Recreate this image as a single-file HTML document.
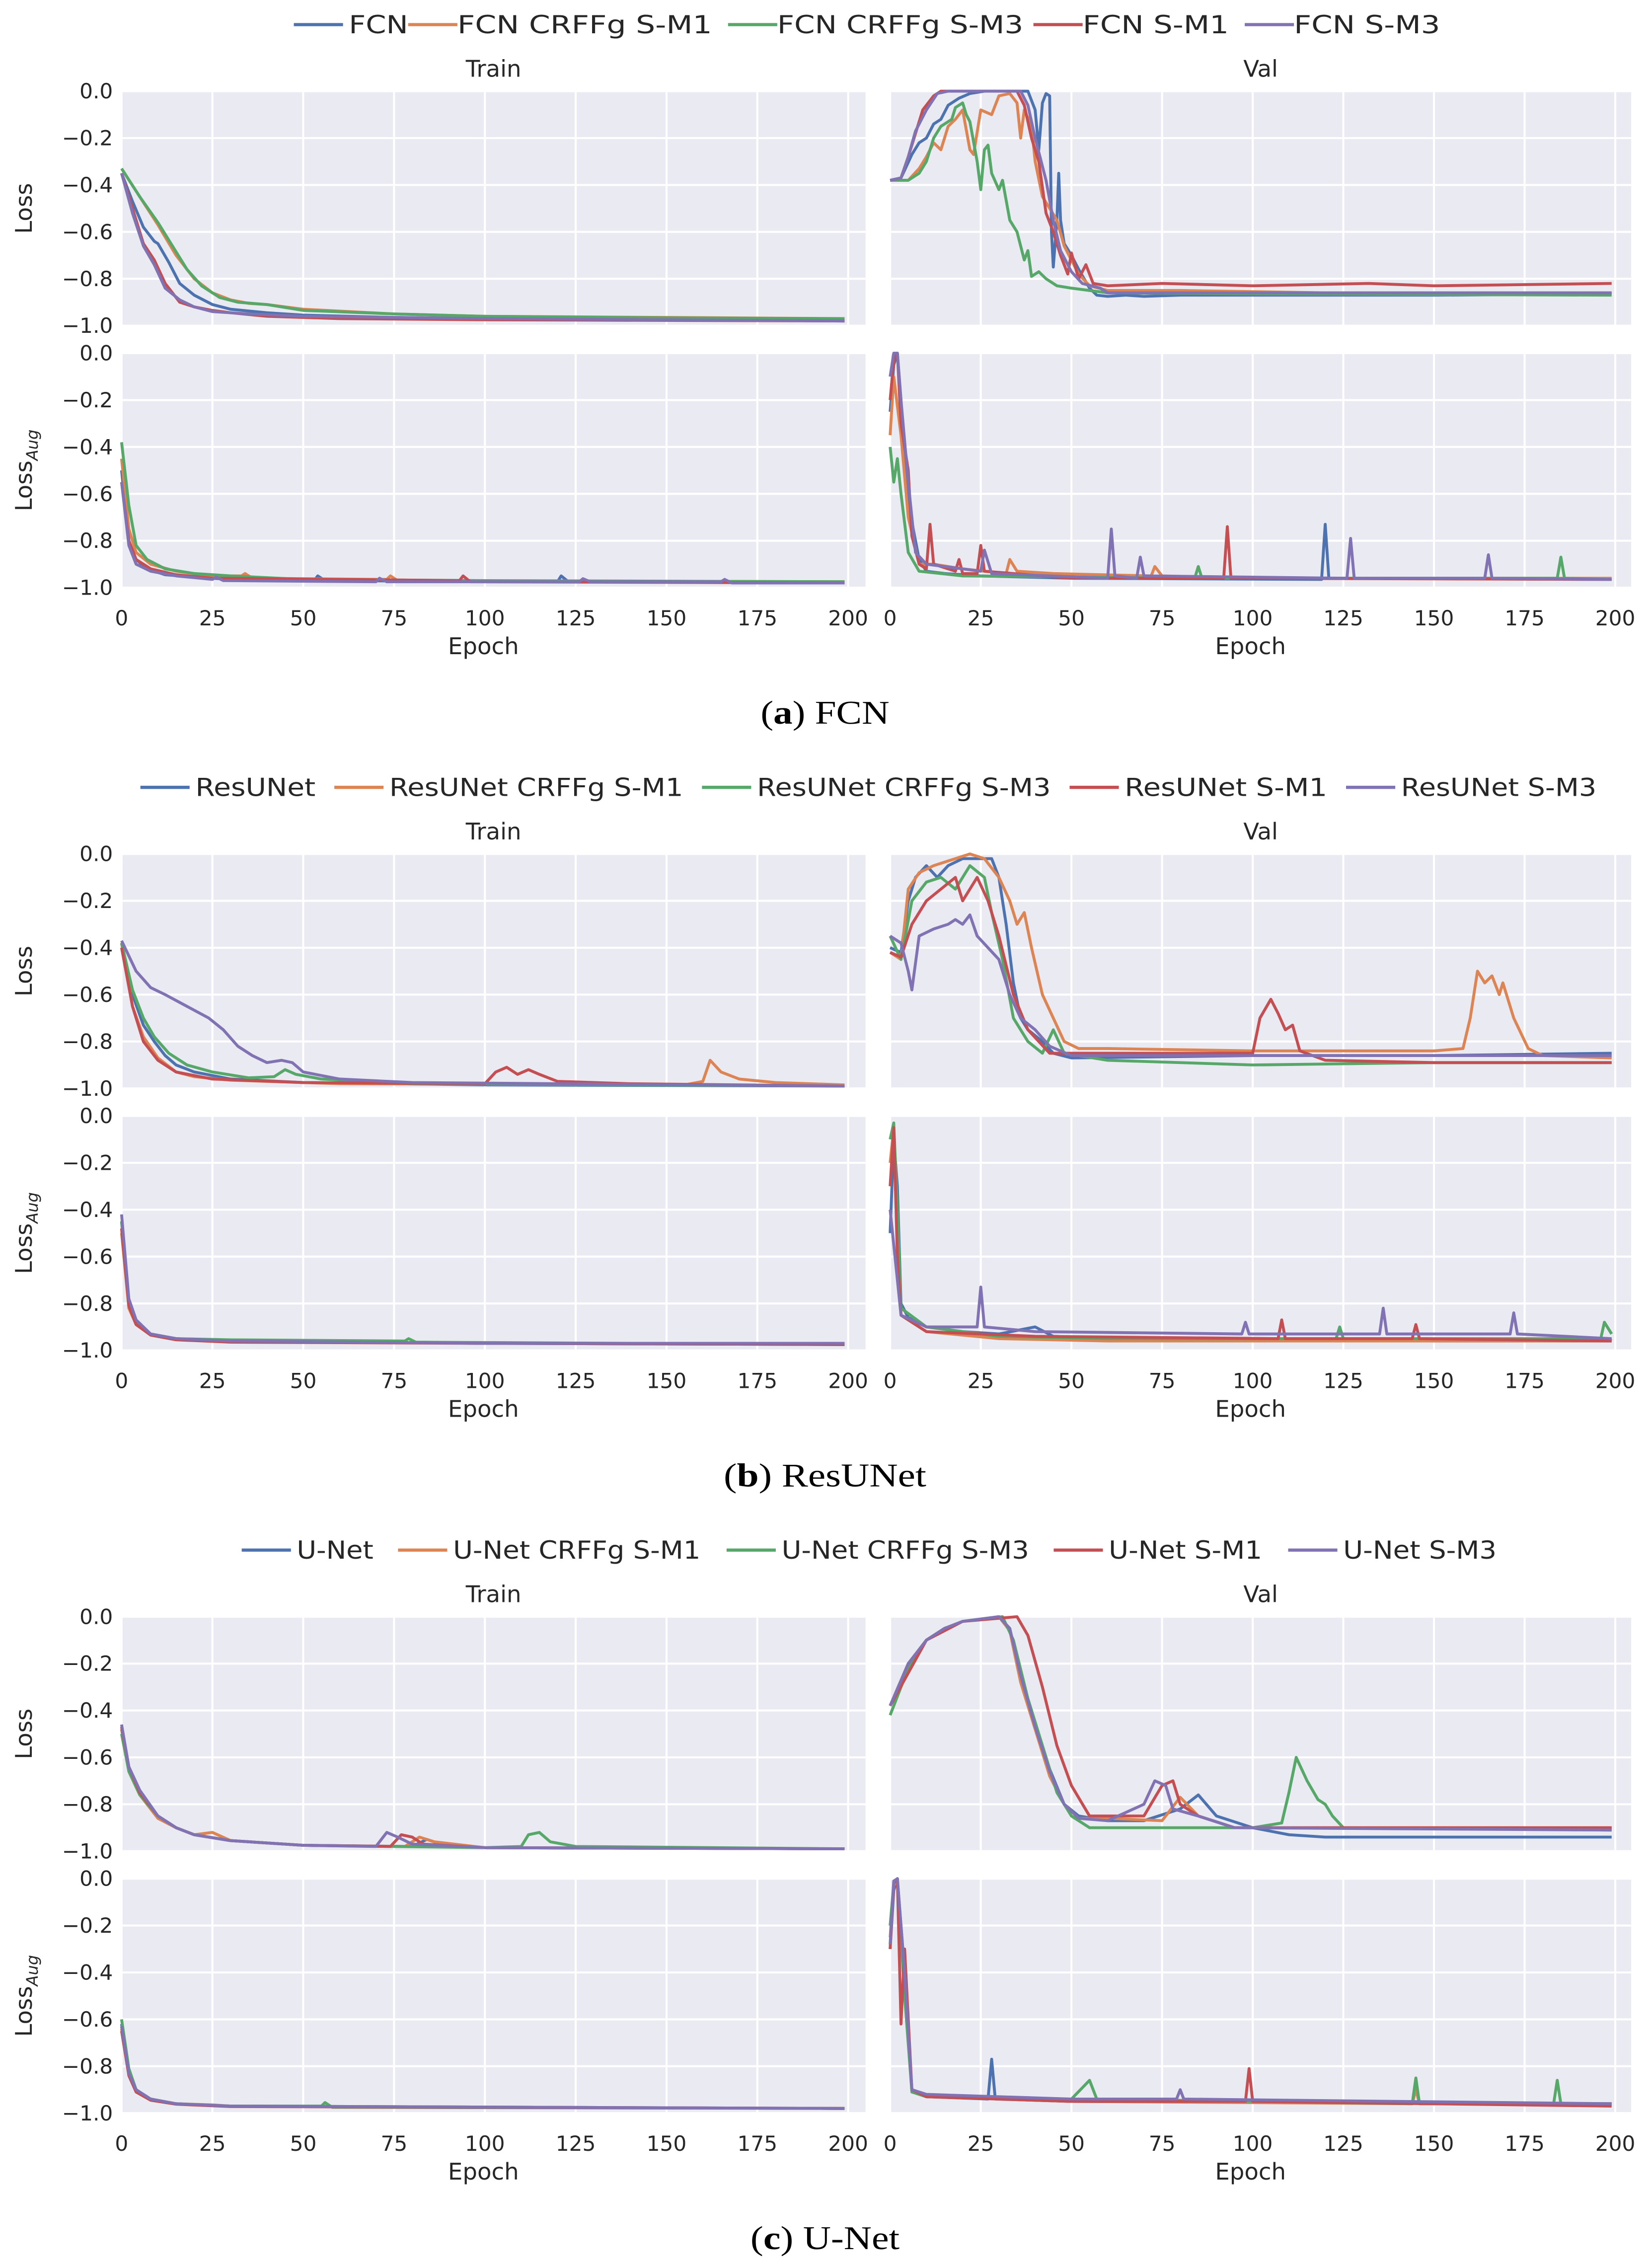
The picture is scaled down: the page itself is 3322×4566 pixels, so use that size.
<!DOCTYPE html>
<html><head><meta charset="utf-8">
<style>
html,body{margin:0;padding:0;background:#fff;}
svg{display:block;}
text{font-family:"DejaVu Sans","Liberation Sans",sans-serif;fill:#262626;}
.cap{font-family:"Liberation Serif","DejaVu Serif",serif;fill:#000;}
</style></head>
<body>
<svg id="fig" xmlns="http://www.w3.org/2000/svg" width="3322" height="4566" viewBox="0 0 1140 1567" preserveAspectRatio="none"></svg>
<script>
// ---------- data (epoch, value pairs) ----------
const epochTicks = [0,25,50,75,100,125,150,175,200];
const yTicks = [0,-0.2,-0.4,-0.6,-0.8,-1.0];
const yTickLabels = ["0.0","\u22120.2","\u22120.4","\u22120.6","\u22120.8","\u22121.0"];
const seriesColors = ["#4C72B0","#DD8452","#55A868","#C44E52","#8172B3"];
const fcnNames = ["FCN","FCN CRFFg S-M1","FCN CRFFg S-M3","FCN S-M1","FCN S-M3"];
const resNames = ["ResUNet","ResUNet CRFFg S-M1","ResUNet CRFFg S-M3","ResUNet S-M1","ResUNet S-M3"];
const unetNames = ["U-Net","U-Net CRFFg S-M1","U-Net CRFFg S-M3","U-Net S-M1","U-Net S-M3"];

// FCN
const fcnTrainLoss = [
 [0,-0.35,3,-0.47,6,-0.58,9,-0.64,10,-0.65,13,-0.73,16,-0.82,20,-0.87,25,-0.91,30,-0.93,40,-0.945,50,-0.955,75,-0.965,100,-0.97,150,-0.975,199,-0.98],
 [0,-0.33,5,-0.45,10,-0.57,15,-0.7,20,-0.8,25,-0.86,30,-0.89,35,-0.905,40,-0.91,50,-0.93,75,-0.95,100,-0.96,150,-0.965,199,-0.97],
 [0,-0.33,5,-0.45,10,-0.56,14,-0.66,18,-0.76,22,-0.83,27,-0.88,32,-0.9,40,-0.91,50,-0.935,75,-0.95,100,-0.96,150,-0.967,199,-0.97],
 [0,-0.35,3,-0.5,6,-0.65,9,-0.72,12,-0.82,16,-0.9,20,-0.92,25,-0.935,30,-0.945,40,-0.96,60,-0.97,100,-0.975,199,-0.98],
 [0,-0.35,3,-0.52,6,-0.66,9,-0.74,12,-0.84,16,-0.89,20,-0.92,25,-0.94,35,-0.95,50,-0.96,100,-0.97,199,-0.98]];
const fcnTrainAug = [
 [0,-0.5,2,-0.8,4,-0.88,7,-0.92,12,-0.945,20,-0.955,30,-0.965,53,-0.97,54,-0.95,56,-0.97,120,-0.975,121,-0.95,123,-0.975,199,-0.98],
 [0,-0.45,2,-0.75,4,-0.85,8,-0.9,15,-0.93,25,-0.95,33,-0.95,34,-0.94,36,-0.96,73,-0.965,74,-0.95,76,-0.97,199,-0.975],
 [0,-0.38,2,-0.65,4,-0.82,7,-0.88,12,-0.92,20,-0.94,30,-0.95,50,-0.965,100,-0.97,199,-0.975],
 [0,-0.55,2,-0.8,4,-0.88,8,-0.92,15,-0.945,25,-0.96,93,-0.97,94,-0.95,96,-0.975,199,-0.98],
 [0,-0.55,2,-0.82,4,-0.9,8,-0.93,15,-0.95,25,-0.965,26,-0.955,28,-0.97,70,-0.975,71,-0.96,73,-0.975,126,-0.975,127,-0.962,129,-0.975,165,-0.975,166,-0.965,168,-0.98,199,-0.98]];
const fcnValLoss = [
 [0,-0.38,3,-0.37,6,-0.27,8,-0.22,10,-0.2,12,-0.14,14,-0.12,16,-0.06,19,-0.03,22,-0.01,26,0,38,0,40,-0.08,41,-0.25,42,-0.05,43,-0.01,44,-0.02,44.5,-0.6,45,-0.75,46,-0.55,46.5,-0.35,47,-0.55,48,-0.65,50,-0.7,52,-0.76,55,-0.84,57,-0.87,60,-0.875,65,-0.87,70,-0.875,80,-0.87,100,-0.87,150,-0.87,199,-0.865],
 [0,-0.38,5,-0.38,8,-0.33,10,-0.28,12,-0.22,14,-0.25,16,-0.15,18,-0.12,20,-0.08,22,-0.25,23,-0.27,25,-0.08,28,-0.1,30,-0.02,33,-0.01,35,-0.05,36,-0.2,37,-0.08,39,-0.15,40,-0.3,42,-0.45,44,-0.5,46,-0.55,48,-0.66,52,-0.78,55,-0.83,60,-0.85,80,-0.85,120,-0.86,199,-0.86],
 [0,-0.38,5,-0.38,8,-0.35,10,-0.3,12,-0.2,14,-0.15,17,-0.12,18,-0.07,20,-0.05,21,-0.1,22,-0.13,24,-0.3,25,-0.42,26,-0.25,27,-0.23,28,-0.35,30,-0.42,31,-0.38,33,-0.55,35,-0.6,37,-0.72,38,-0.68,39,-0.79,41,-0.77,43,-0.8,46,-0.83,50,-0.84,55,-0.85,60,-0.86,100,-0.865,199,-0.87],
 [0,-0.38,3,-0.37,5,-0.28,7,-0.18,9,-0.08,12,-0.02,14,0,35,0,37,-0.06,39,-0.2,41,-0.3,43,-0.52,45,-0.6,47,-0.7,49,-0.78,50,-0.69,52,-0.8,54,-0.74,56,-0.82,60,-0.83,75,-0.82,100,-0.83,132,-0.82,150,-0.83,199,-0.82],
 [0,-0.38,3,-0.37,5,-0.28,7,-0.17,10,-0.08,13,-0.01,16,0,36,0,38,-0.06,40,-0.2,43,-0.38,45,-0.55,47,-0.68,50,-0.77,53,-0.82,58,-0.84,60,-0.86,100,-0.86,199,-0.86]];
const fcnValAug = [
 [0,-0.25,1,-0.05,2,0,3,-0.2,4,-0.45,5,-0.6,6,-0.72,8,-0.88,10,-0.93,15,-0.94,25,-0.95,50,-0.96,119,-0.965,120,-0.73,121,-0.96,199,-0.965],
 [0,-0.35,1,-0.1,3,-0.35,5,-0.7,8,-0.9,12,-0.9,20,-0.92,32,-0.94,33,-0.88,35,-0.93,45,-0.94,72,-0.95,73,-0.91,75,-0.95,100,-0.96,199,-0.96],
 [0,-0.4,1,-0.55,2,-0.45,3,-0.6,5,-0.85,8,-0.93,20,-0.95,84,-0.96,85,-0.91,86,-0.96,184,-0.96,185,-0.87,186,-0.96,199,-0.965],
 [0,-0.2,1,-0.03,2,0,3,-0.3,5,-0.5,6,-0.78,8,-0.9,10,-0.92,11,-0.73,12,-0.9,18,-0.93,19,-0.88,20,-0.94,24,-0.94,25,-0.82,26,-0.93,50,-0.96,92,-0.96,93,-0.74,94,-0.96,199,-0.965],
 [0,-0.1,1,0,2,0,3,-0.2,5,-0.55,7,-0.85,10,-0.9,25,-0.93,26,-0.84,28,-0.94,60,-0.96,61,-0.75,62,-0.95,68,-0.96,69,-0.87,70,-0.95,126,-0.96,127,-0.79,128,-0.96,164,-0.96,165,-0.86,166,-0.96,199,-0.965]];

// ResUNet
const resTrainLoss = [
 [0,-0.38,3,-0.6,6,-0.73,9,-0.8,12,-0.86,15,-0.9,20,-0.93,30,-0.96,50,-0.975,100,-0.985,199,-0.99],
 [0,-0.38,3,-0.65,6,-0.78,10,-0.87,15,-0.93,20,-0.95,30,-0.965,60,-0.98,155,-0.985,160,-0.97,162,-0.88,165,-0.93,170,-0.96,180,-0.975,199,-0.985],
 [0,-0.38,3,-0.58,6,-0.7,9,-0.78,13,-0.85,18,-0.9,25,-0.93,35,-0.955,42,-0.95,45,-0.92,48,-0.94,55,-0.96,80,-0.98,199,-0.99],
 [0,-0.4,3,-0.65,6,-0.8,10,-0.88,15,-0.93,25,-0.96,50,-0.975,100,-0.98,103,-0.93,106,-0.91,109,-0.94,112,-0.92,115,-0.94,120,-0.97,140,-0.98,199,-0.99],
 [0,-0.37,4,-0.5,8,-0.57,12,-0.6,18,-0.65,24,-0.7,28,-0.75,32,-0.82,36,-0.86,40,-0.89,44,-0.88,47,-0.89,50,-0.93,60,-0.96,80,-0.975,199,-0.99]];
const resTrainAug = [
 [0,-0.45,2,-0.8,4,-0.88,8,-0.93,15,-0.95,30,-0.96,100,-0.97,199,-0.975],
 [0,-0.5,2,-0.82,4,-0.89,8,-0.93,15,-0.95,30,-0.96,100,-0.97,199,-0.97],
 [0,-0.45,2,-0.8,4,-0.88,8,-0.93,15,-0.95,30,-0.955,78,-0.96,79,-0.95,81,-0.965,199,-0.975],
 [0,-0.48,2,-0.81,4,-0.89,8,-0.935,15,-0.955,30,-0.965,100,-0.97,199,-0.975],
 [0,-0.42,2,-0.78,4,-0.87,8,-0.93,15,-0.95,30,-0.96,100,-0.97,199,-0.97]];
const resValLoss = [
 [0,-0.4,3,-0.42,5,-0.2,7,-0.1,10,-0.05,13,-0.1,16,-0.05,20,-0.02,28,-0.02,30,-0.1,32,-0.3,34,-0.55,36,-0.7,38,-0.75,42,-0.8,45,-0.85,50,-0.87,100,-0.86,150,-0.86,199,-0.85],
 [0,-0.42,3,-0.45,5,-0.15,8,-0.08,12,-0.05,18,-0.02,22,0,26,-0.02,30,-0.1,33,-0.2,35,-0.3,37,-0.25,39,-0.4,42,-0.6,45,-0.7,48,-0.8,52,-0.83,60,-0.83,100,-0.84,150,-0.84,158,-0.83,160,-0.7,162,-0.5,164,-0.55,166,-0.52,168,-0.6,169,-0.55,172,-0.7,176,-0.83,180,-0.86,199,-0.87],
 [0,-0.35,3,-0.45,6,-0.2,10,-0.12,14,-0.1,18,-0.15,22,-0.05,26,-0.1,28,-0.25,31,-0.45,34,-0.7,38,-0.8,42,-0.85,45,-0.75,48,-0.85,60,-0.88,100,-0.9,150,-0.89,199,-0.89],
 [0,-0.42,3,-0.44,6,-0.3,10,-0.2,14,-0.15,18,-0.1,20,-0.2,22,-0.15,24,-0.1,27,-0.2,30,-0.35,34,-0.6,38,-0.75,44,-0.85,60,-0.85,100,-0.85,102,-0.7,105,-0.62,107,-0.68,109,-0.75,111,-0.73,113,-0.84,120,-0.88,150,-0.89,199,-0.89],
 [0,-0.35,3,-0.38,5,-0.5,6,-0.58,8,-0.35,12,-0.32,16,-0.3,18,-0.28,20,-0.3,22,-0.26,24,-0.35,27,-0.4,30,-0.45,33,-0.6,36,-0.7,40,-0.75,44,-0.82,50,-0.86,100,-0.86,150,-0.86,199,-0.86]];
const resValAug = [
 [0,-0.5,1,-0.1,2,-0.3,3,-0.8,5,-0.86,10,-0.9,20,-0.92,30,-0.93,40,-0.9,45,-0.94,60,-0.95,100,-0.95,150,-0.96,199,-0.96],
 [0,-0.2,1,-0.05,2,-0.5,3,-0.85,10,-0.92,30,-0.95,60,-0.96,198,-0.96,199,-0.95],
 [0,-0.1,1,-0.03,2,-0.4,3,-0.82,10,-0.9,30,-0.94,60,-0.95,123,-0.95,124,-0.9,125,-0.95,196,-0.95,197,-0.88,199,-0.93],
 [0,-0.3,1,-0.05,2,-0.6,3,-0.85,10,-0.92,40,-0.94,107,-0.95,108,-0.87,109,-0.95,144,-0.95,145,-0.89,146,-0.95,199,-0.96],
 [0,-0.4,2,-0.7,3,-0.85,10,-0.9,24,-0.9,25,-0.73,26,-0.9,40,-0.92,97,-0.93,98,-0.88,99,-0.93,135,-0.93,136,-0.82,137,-0.93,171,-0.93,172,-0.84,173,-0.93,199,-0.95]];

// U-Net
const unetTrainLoss = [
 [0,-0.48,2,-0.65,5,-0.75,10,-0.85,15,-0.9,20,-0.93,30,-0.955,50,-0.975,80,-0.98,84,-0.95,88,-0.97,100,-0.985,199,-0.99],
 [0,-0.48,2,-0.66,5,-0.76,10,-0.86,15,-0.9,20,-0.93,25,-0.92,30,-0.955,50,-0.975,78,-0.98,82,-0.94,86,-0.96,100,-0.985,199,-0.99],
 [0,-0.5,2,-0.66,5,-0.76,10,-0.85,15,-0.9,20,-0.93,30,-0.955,50,-0.975,100,-0.985,110,-0.98,112,-0.93,115,-0.92,118,-0.96,125,-0.98,199,-0.99],
 [0,-0.47,2,-0.64,5,-0.75,10,-0.85,15,-0.9,20,-0.93,30,-0.955,50,-0.975,74,-0.98,77,-0.93,80,-0.94,83,-0.97,100,-0.985,199,-0.99],
 [0,-0.46,2,-0.64,5,-0.74,10,-0.85,15,-0.9,20,-0.93,30,-0.955,50,-0.975,70,-0.98,73,-0.92,76,-0.94,80,-0.97,100,-0.985,199,-0.99]];
const unetTrainAug = [
 [0,-0.62,2,-0.82,4,-0.9,8,-0.94,15,-0.96,30,-0.97,199,-0.98],
 [0,-0.64,2,-0.83,4,-0.9,8,-0.94,15,-0.96,25,-0.965,30,-0.97,199,-0.98],
 [0,-0.6,2,-0.81,4,-0.9,8,-0.94,15,-0.96,30,-0.97,55,-0.97,56,-0.955,58,-0.975,199,-0.98],
 [0,-0.65,2,-0.84,4,-0.91,8,-0.945,15,-0.962,30,-0.972,199,-0.98],
 [0,-0.63,2,-0.83,4,-0.9,8,-0.94,15,-0.96,30,-0.97,199,-0.98]];
const unetValLoss = [
 [0,-0.38,5,-0.2,10,-0.1,15,-0.05,20,-0.02,25,-0.01,30,0,33,-0.05,36,-0.25,40,-0.45,44,-0.65,48,-0.8,52,-0.85,60,-0.87,70,-0.87,80,-0.82,85,-0.76,90,-0.85,100,-0.9,110,-0.93,120,-0.94,199,-0.94],
 [0,-0.38,5,-0.2,10,-0.1,15,-0.05,20,-0.02,25,-0.01,30,0,33,-0.06,36,-0.28,40,-0.48,44,-0.68,48,-0.8,52,-0.86,60,-0.86,75,-0.87,80,-0.77,85,-0.85,95,-0.9,199,-0.9],
 [0,-0.42,5,-0.22,10,-0.1,15,-0.05,20,-0.02,25,-0.01,31,0,34,-0.1,38,-0.35,42,-0.55,46,-0.75,50,-0.85,55,-0.9,80,-0.9,100,-0.9,108,-0.88,110,-0.75,112,-0.6,115,-0.7,118,-0.78,120,-0.8,122,-0.85,125,-0.9,199,-0.91],
 [0,-0.38,10,-0.1,20,-0.02,35,0,38,-0.08,42,-0.3,46,-0.55,50,-0.72,55,-0.85,70,-0.85,75,-0.72,78,-0.7,80,-0.8,85,-0.85,95,-0.9,199,-0.9],
 [0,-0.38,5,-0.2,10,-0.1,15,-0.05,20,-0.02,30,0,33,-0.05,36,-0.25,40,-0.47,44,-0.66,48,-0.8,52,-0.86,60,-0.87,70,-0.8,73,-0.7,76,-0.72,78,-0.82,85,-0.85,95,-0.9,199,-0.91]];
const unetValAug = [
 [0,-0.3,1,-0.05,2,0,4,-0.4,6,-0.9,10,-0.93,27,-0.94,28,-0.77,29,-0.94,50,-0.95,199,-0.96],
 [0,-0.25,1,-0.03,2,0,4,-0.45,6,-0.9,10,-0.93,50,-0.95,144,-0.96,145,-0.9,146,-0.96,199,-0.96],
 [0,-0.2,1,-0.02,2,0,4,-0.5,6,-0.91,10,-0.93,50,-0.94,55,-0.86,57,-0.94,100,-0.95,144,-0.96,145,-0.85,146,-0.96,183,-0.96,184,-0.86,185,-0.96,199,-0.96],
 [0,-0.3,1,-0.02,2,0,3,-0.62,4,-0.3,6,-0.9,10,-0.93,50,-0.95,98,-0.95,99,-0.81,100,-0.95,199,-0.97],
 [0,-0.28,1,-0.01,2,0,4,-0.4,6,-0.9,10,-0.92,50,-0.94,79,-0.94,80,-0.9,81,-0.94,199,-0.96]];

// ---------- layout ----------
const NS = "http://www.w3.org/2000/svg";
const svg = document.getElementById("fig");
const TRAIN = {x0:84, x1:598, d0:84, d1:586};
const VAL = {x0:615, x1:1127, d0:615, d1:1116};
function el(tag, attrs, parent){ const e=document.createElementNS(NS,tag); for(const k in attrs) e.setAttribute(k,attrs[k]); (parent||svg).appendChild(e); return e; }
function xScale(col, ep){ return col.d0 + (col.d1-col.d0)*ep/200; }
function yScale(top, bot, v){ return top + (bot-top)*(0-v)/1.0; }

function drawAxes(g, col, top, bot, showY, showX){
  const bg = el("rect",{x:col.x0,y:top,width:col.x1-col.x0,height:bot-top,fill:"#EAEAF2"},g);
  
  
  yTicks.forEach((t,i)=>{
    const y=yScale(top,bot,t);
    const gl=el("line",{x1:col.x0,x2:col.x1,y1:y,y2:y,stroke:"#fff","stroke-width":1.4},g);
    
    
    if(showY){
      const tl=el("text",{x:col.x0-6,y:y+5,"text-anchor":"end","font-size":14.5},g);
      tl.textContent=yTickLabels[i];
      
      
    }
  });
  epochTicks.forEach(t=>{
    const x=xScale(col,t);
    const gl=el("line",{x1:x,x2:x,y1:top,y2:bot,stroke:"#fff","stroke-width":1.4},g);
    
    
    if(showX){
      const tl=el("text",{x:x,y:bot+26,"text-anchor":"middle","font-size":14.5},g);
      tl.textContent=String(t);
      
      
    }
  });
}
function drawSeries(g, col, top, bot, arr, color){
  let pts=[];
  for(let i=0;i<arr.length;i+=2) pts.push(xScale(col,arr[i]).toFixed(2)+","+yScale(top,bot,arr[i+1]).toFixed(2));
  const p=el("polyline",{points:pts.join(" "),fill:"none",stroke:color,"stroke-width":2,"stroke-linejoin":"round"},g);
  
  
}

const figures = [
 {off:0, names:fcnNames, tl:fcnTrainLoss, ta:fcnTrainAug, vl:fcnValLoss, va:fcnValAug, letter:"a", title:"FCN", capW:89,
  leg:[[203,241,41],[282,316,176],[503,537,170],[714,748,101],[860,894,101]]},
 {off:527, names:resNames, tl:resTrainLoss, ta:resTrainAug, vl:resValLoss, va:resValAug, letter:"b", title:"ResUNet", capW:140,
  leg:[[97,135,83],[231,269,203],[485,523,203],[739,777,140],[930,968,135]]},
 {off:1054, names:unetNames, tl:unetTrainLoss, ta:unetTrainAug, vl:unetValLoss, va:unetValAug, letter:"c", title:"U-Net", capW:103,
  leg:[[167,205,53],[275,313,171],[502,540,171],[728,766,106],[890,928,106]]}
];

figures.forEach(f=>{
  const g = el("g",{});
  
  
  const o=f.off;
  f.leg.forEach((p,i)=>{
    const ln=el("line",{x1:p[0],x2:p[0]+34,y1:o+17,y2:o+17,stroke:seriesColors[i],"stroke-width":2.2},g);
    
    
    const t=el("text",{x:p[1],y:o+23,"font-size":17,textLength:p[2],lengthAdjust:"spacingAndGlyphs"},g);
    t.textContent=f.names[i];
    
    
  });
  const tt=el("text",{x:(TRAIN.x0+TRAIN.x1)/2,y:o+53,"text-anchor":"middle","font-size":16},g);
  tt.textContent="Train";
  
  
  const vt=el("text",{x:(VAL.x0+VAL.x1)/2,y:o+53,"text-anchor":"middle","font-size":16},g);
  vt.textContent="Val";
  
  
  const T1=o+63, B1=o+225, T2=o+244, B2=o+406;
  drawAxes(g,TRAIN,T1,B1,true,false);
  drawAxes(g,VAL,T1,B1,false,false);
  drawAxes(g,TRAIN,T2,B2,true,true);
  drawAxes(g,VAL,T2,B2,false,true);
  for(let i=0;i<5;i++){
    drawSeries(g,TRAIN,T1,B1,f.tl[i],seriesColors[i]);
    drawSeries(g,VAL,T1,B1,f.vl[i],seriesColors[i]);
    drawSeries(g,TRAIN,T2,B2,f.ta[i],seriesColors[i]);
    drawSeries(g,VAL,T2,B2,f.va[i],seriesColors[i]);
  }
  const yl=el("text",{x:0,y:0,"text-anchor":"middle","font-size":16,transform:`translate(22,${(T1+B1)/2}) rotate(-90)`},g);
  yl.textContent="Loss";
  
  
  const ya=el("text",{x:0,y:0,"text-anchor":"middle","font-size":16,transform:`translate(22,${(T2+B2)/2}) rotate(-90)`},g);
  ya.innerHTML='Loss<tspan font-size="11" font-style="italic" dy="4">Aug</tspan>';
  
  
  [[TRAIN,'x-axis-title-train'],[VAL,'x-axis-title-val']].forEach(c=>{
    const xl=el("text",{x:(c[0].x0+c[0].x1)/2-7,y:o+452,"text-anchor":"middle","font-size":16},g);
    xl.textContent="Epoch";
    
    
  });
  const cap=el("text",{x:570-f.capW/2,y:o+500,"font-size":23,"class":"cap",textLength:f.capW,lengthAdjust:"spacingAndGlyphs"},g);
  cap.innerHTML='(<tspan font-weight="bold">'+f.letter+'</tspan>) '+f.title;
  
  
});
</script>
</body></html>
